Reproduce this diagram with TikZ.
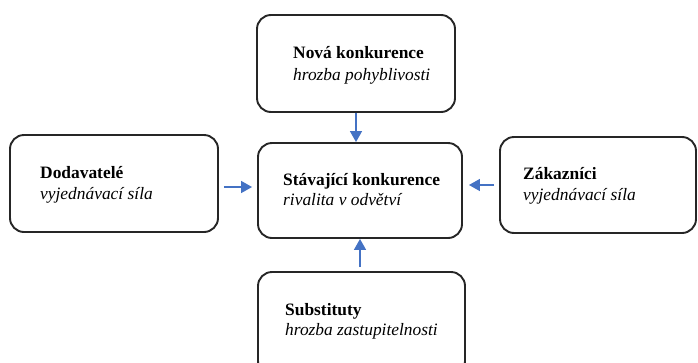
\documentclass[tikz,border=0pt]{standalone}
\usepackage{fontspec}
\setmainfont{Liberation Serif}
\usetikzlibrary{arrows.meta}
\definecolor{arrblue}{HTML}{4472C4}
\definecolor{boxline}{HTML}{262626}
\tikzset{
  forcebox/.style={draw=boxline, line width=1.9pt, rounded corners=14pt, fill=white, inner sep=0pt},
  headtxt/.style={anchor=base west, inner sep=0pt, font=\fontsize{17.4}{21}\selectfont\bfseries},
  subtxt/.style={anchor=base west, inner sep=0pt, font=\fontsize{17.4}{21}\selectfont\itshape},
  arr/.style={draw=arrblue, line width=1.5pt, -{Triangle[length=11pt,width=12pt]}}
}
\begin{document}
\begin{tikzpicture}[x=1pt, y=-1pt]
\useasboundingbox (0,0) rectangle (698,362);
\begin{scope}
\clip (0,0) rectangle (698,362);
% boxes
\node[forcebox, minimum width=198pt, minimum height=97pt] (nova) at (356,63.5) {};
\node[forcebox, minimum width=208pt, minimum height=97pt] (dod) at (114,183.5) {};
\node[forcebox, minimum width=204pt, minimum height=95pt] (stav) at (360,190.5) {};
\node[forcebox, minimum width=196pt, minimum height=96pt] (zak) at (598,185) {};
\node[forcebox, minimum width=207pt, minimum height=103pt] (sub) at (361.5,323.5) {};
\end{scope}
% texts
\node[headtxt] (nova1) at (293,58) {Nová konkurence};
\node[subtxt] (nova2) at (293,80) {hrozba pohyblivosti};
\node[headtxt] (dod1) at (40,178) {Dodavatelé};
\node[subtxt] (dod2) at (40,199) {vyjednávací síla};
\node[headtxt] (stav1) at (283,185) {Stávající konkurence};
\node[subtxt] (stav2) at (283,205) {rivalita v odvětví};
\node[headtxt] (zak1) at (523,179) {Zákazníci};
\node[subtxt] (zak2) at (523,200) {vyjednávací síla};
\node[headtxt] (sub1) at (285,315) {Substituty};
\node[subtxt] (sub2) at (285,335) {hrozba zastupitelnosti};
% arrows
\draw[arr] (nova.south) -- (nova.south |- stav.north);
\draw[arr, shorten <=5pt, shorten >=5pt] (dod.east |- 0,187) -- (stav.west |- 0,187);
\draw[arr, shorten <=5pt, shorten >=6pt] (zak.west |- 0,185) -- (stav.east |- 0,185);
\draw[arr, shorten <=4pt] (sub.north -| stav.south) -- (stav.south);
\end{tikzpicture}
\end{document}
